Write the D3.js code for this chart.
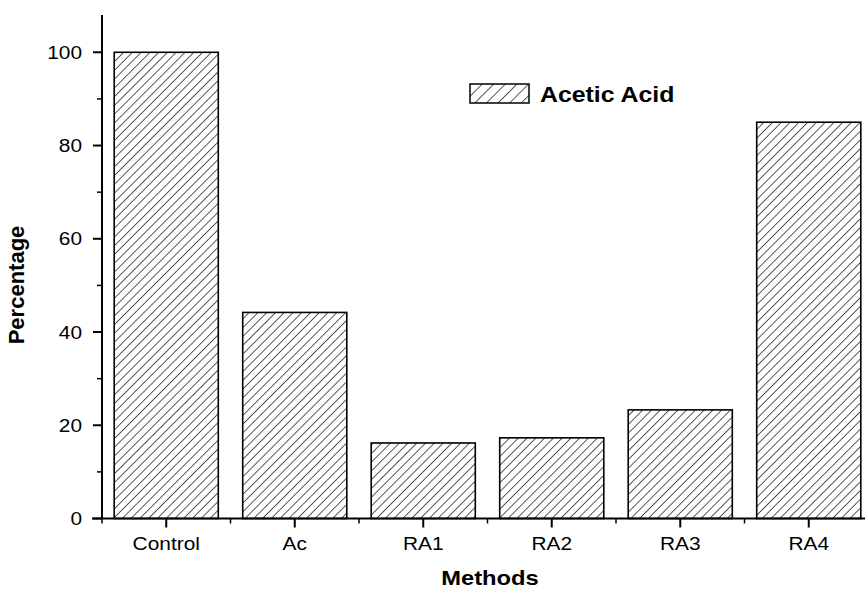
<!DOCTYPE html>
<html>
<head>
<meta charset="utf-8">
<script src="https://cdn.jsdelivr.net/npm/d3@7/dist/d3.min.js"></script>
<style>
  html, body { margin: 0; padding: 0; background: #fff; }
  svg { display: block; font-family: "Liberation Sans", Arial, sans-serif; }
</style>
</head>
<body>
<svg id="chart" width="865" height="590"></svg>
<script>
// Acetic acid percentage by treatment method
const methods = ["Control", "Ac", "RA1", "RA2", "RA3", "RA4"];
const percentage = [100, 44.2, 16.2, 17.3, 23.3, 85.0];
const yTicks = [0, 20, 40, 60, 80, 100];
const yMinorTicks = [10, 30, 50, 70, 90];
const seriesName = "Acetic Acid";

const svg = d3.select("#chart");
const x0 = 102, x1 = 873, yBase = 518.5, yTop = 15;
const sx = 1.13; // horizontal text stretch

const x = d3.scaleBand().domain(methods).range([x0, x1])
  .paddingInner(0.19).paddingOuter(0.095);
const y = d3.scaleLinear().domain([0, 108]).range([yBase, yTop]);

// Diagonal hatch fills (bars and legend swatch)
const defs = svg.append("defs");
function hatch(id, s) {
  const pat = defs.append("pattern")
    .attr("id", id)
    .attr("patternUnits", "userSpaceOnUse")
    .attr("width", s).attr("height", s)
    .attr("patternTransform", "rotate(45)");
  pat.append("rect").attr("width", s).attr("height", s).attr("fill", "#fff");
  pat.append("line")
    .attr("x1", 0).attr("y1", -1).attr("x2", 0).attr("y2", s + 1)
    .attr("stroke", "#000").attr("stroke-width", 1.3);
}
hatch("hatch", 6.2);
hatch("hatchLegend", 8.2);

// Bars
svg.append("g").selectAll("rect")
  .data(methods)
  .join("rect")
  .attr("x", d => x(d))
  .attr("y", (d, i) => y(percentage[i]))
  .attr("width", x.bandwidth())
  .attr("height", (d, i) => y(0) - y(percentage[i]))
  .attr("fill", "url(#hatch)")
  .attr("stroke", "#000")
  .attr("stroke-width", 1.6);

// Y axis
const yAxis = svg.append("g").attr("transform", `translate(${x0},0)`);
yAxis.append("line")
  .attr("x1", 0).attr("x2", 0).attr("y1", y.range()[1]).attr("y2", yBase)
  .attr("stroke", "#000").attr("stroke-width", 2);
yAxis.selectAll(".major").data(yTicks).join("line")
  .attr("x1", -9).attr("x2", 0)
  .attr("y1", d => y(d)).attr("y2", d => y(d))
  .attr("stroke", "#000").attr("stroke-width", 2);
yAxis.selectAll(".minor").data(yMinorTicks).join("line")
  .attr("x1", -5).attr("x2", 0)
  .attr("y1", d => y(d)).attr("y2", d => y(d))
  .attr("stroke", "#000").attr("stroke-width", 1.5);
yAxis.selectAll("text").data(yTicks).join("text")
  .attr("transform", d => `translate(-20,${y(d)}) scale(${sx},1)`)
  .attr("dy", "0.36em")
  .attr("text-anchor", "end")
  .attr("font-size", 18.5)
  .text(d => d);

// X axis
const bounds = methods.map(d => x(d) - x.step() * x.paddingInner() / 2);
bounds[0] = x0;
const xAxis = svg.append("g").attr("transform", `translate(0,${yBase})`);
xAxis.append("line")
  .attr("x1", x0 - 10).attr("x2", 865).attr("y1", 0).attr("y2", 0)
  .attr("stroke", "#000").attr("stroke-width", 2);
xAxis.selectAll(".major").data(methods).join("line")
  .attr("x1", d => x(d) + x.bandwidth() / 2).attr("x2", d => x(d) + x.bandwidth() / 2)
  .attr("y1", 0).attr("y2", 9)
  .attr("stroke", "#000").attr("stroke-width", 2);
xAxis.selectAll(".minor").data(bounds).join("line")
  .attr("x1", d => d).attr("x2", d => d)
  .attr("y1", 0).attr("y2", 5)
  .attr("stroke", "#000").attr("stroke-width", 1.5);
xAxis.selectAll("text").data(methods).join("text")
  .attr("transform", d => `translate(${x(d) + x.bandwidth() / 2},31) scale(${sx},1)`)
  .attr("text-anchor", "middle")
  .attr("font-size", 18.5)
  .text(d => d);

// Axis titles
svg.append("text")
  .attr("transform", `translate(490,585) scale(${sx},1)`)
  .attr("text-anchor", "middle")
  .attr("font-size", 21).attr("font-weight", "bold")
  .text("Methods");
svg.append("text")
  .attr("transform", "translate(24,285) rotate(-90)")
  .attr("text-anchor", "middle")
  .attr("font-size", 22).attr("font-weight", "bold")
  .text("Percentage");

// Legend
const legend = svg.append("g").attr("transform", "translate(470,84)");
legend.append("rect")
  .attr("width", 59).attr("height", 19)
  .attr("fill", "url(#hatchLegend)")
  .attr("stroke", "#000").attr("stroke-width", 1.5);
legend.append("text")
  .attr("transform", `translate(70,17.5) scale(${sx},1)`)
  .attr("font-size", 22).attr("font-weight", "bold")
  .text(seriesName);
</script>
</body>
</html>
